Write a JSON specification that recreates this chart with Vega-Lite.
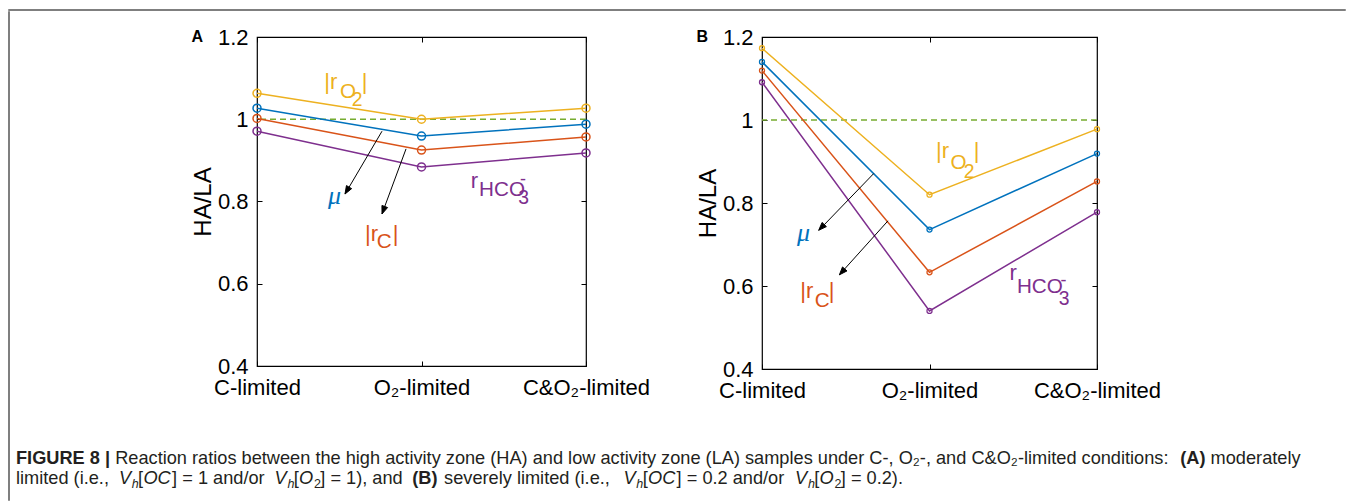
{
  "$schema": "https://vega.github.io/schema/vega-lite/v6.json",
  "padding": {"left": 8, "top": 9, "right": 0, "bottom": 0},
  "background": "white",
  "config": {"view": {"stroke": null}, "font": "Liberation Sans"},
  "datasets": {
    "series": [
      {"panel": "A", "series": "rO2", "cond": 1, "ratio": 1.063},
      {"panel": "A", "series": "rO2", "cond": 2, "ratio": 1.0},
      {"panel": "A", "series": "rO2", "cond": 3, "ratio": 1.027},
      {"panel": "A", "series": "mu", "cond": 1, "ratio": 1.027},
      {"panel": "A", "series": "mu", "cond": 2, "ratio": 0.959},
      {"panel": "A", "series": "mu", "cond": 3, "ratio": 0.988},
      {"panel": "A", "series": "rC", "cond": 1, "ratio": 1.002},
      {"panel": "A", "series": "rC", "cond": 2, "ratio": 0.925},
      {"panel": "A", "series": "rC", "cond": 3, "ratio": 0.957},
      {"panel": "A", "series": "rHCO3", "cond": 1, "ratio": 0.971},
      {"panel": "A", "series": "rHCO3", "cond": 2, "ratio": 0.884},
      {"panel": "A", "series": "rHCO3", "cond": 3, "ratio": 0.918},
      {"panel": "B", "series": "rO2", "cond": 1, "ratio": 1.173},
      {"panel": "B", "series": "rO2", "cond": 2, "ratio": 0.82},
      {"panel": "B", "series": "rO2", "cond": 3, "ratio": 0.978},
      {"panel": "B", "series": "mu", "cond": 1, "ratio": 1.14},
      {"panel": "B", "series": "mu", "cond": 2, "ratio": 0.736},
      {"panel": "B", "series": "mu", "cond": 3, "ratio": 0.919},
      {"panel": "B", "series": "rC", "cond": 1, "ratio": 1.119},
      {"panel": "B", "series": "rC", "cond": 2, "ratio": 0.633},
      {"panel": "B", "series": "rC", "cond": 3, "ratio": 0.852},
      {"panel": "B", "series": "rHCO3", "cond": 1, "ratio": 1.091},
      {"panel": "B", "series": "rHCO3", "cond": 2, "ratio": 0.54},
      {"panel": "B", "series": "rHCO3", "cond": 3, "ratio": 0.778}
    ],
    "reference": [{"ref": 1}],
    "labels": [
      {"panel": "A", "series": "rO2", "level": "main", "x": 1.409, "y": 1.073, "txt": "|r"},
      {"panel": "A", "series": "rO2", "level": "sub", "x": 1.505, "y": 1.052, "txt": "O"},
      {"panel": "A", "series": "rO2", "level": "sub2", "x": 1.576, "y": 1.032, "txt": "2"},
      {"panel": "A", "series": "rO2", "level": "main", "x": 1.637, "y": 1.073, "txt": "|"},
      {"panel": "A", "series": "mu", "level": "mu", "x": 1.432, "y": 0.794, "txt": "μ"},
      {"panel": "A", "series": "rC", "level": "main", "x": 1.657, "y": 0.704, "txt": "|r"},
      {"panel": "A", "series": "rC", "level": "sub", "x": 1.728, "y": 0.688, "txt": "C"},
      {"panel": "A", "series": "rC", "level": "main", "x": 1.825, "y": 0.704, "txt": "|"},
      {"panel": "A", "series": "rHCO3", "level": "main", "x": 2.299, "y": 0.834, "txt": "r"},
      {"panel": "A", "series": "rHCO3", "level": "sub", "x": 2.35, "y": 0.813, "txt": "HCO"},
      {"panel": "A", "series": "rHCO3", "level": "sub2", "x": 2.588, "y": 0.793, "txt": "3"},
      {"panel": "A", "series": "rHCO3", "level": "sup", "x": 2.599, "y": 0.841, "txt": "-"},
      {"panel": "B", "series": "rO2", "level": "main", "x": 2.039, "y": 0.909, "txt": "|r"},
      {"panel": "B", "series": "rO2", "level": "sub", "x": 2.125, "y": 0.882, "txt": "O"},
      {"panel": "B", "series": "rO2", "level": "sub2", "x": 2.204, "y": 0.86, "txt": "2"},
      {"panel": "B", "series": "rO2", "level": "main", "x": 2.264, "y": 0.909, "txt": "|"},
      {"panel": "B", "series": "mu", "level": "mu", "x": 1.209, "y": 0.708, "txt": "μ"},
      {"panel": "B", "series": "rC", "level": "main", "x": 1.229, "y": 0.57, "txt": "|r"},
      {"panel": "B", "series": "rC", "level": "sub", "x": 1.315, "y": 0.55, "txt": "C"},
      {"panel": "B", "series": "rC", "level": "main", "x": 1.398, "y": 0.57, "txt": "|"},
      {"panel": "B", "series": "rHCO3", "level": "main", "x": 2.477, "y": 0.615, "txt": "r"},
      {"panel": "B", "series": "rHCO3", "level": "sub", "x": 2.522, "y": 0.583, "txt": "HCO"},
      {"panel": "B", "series": "rHCO3", "level": "sub2", "x": 2.771, "y": 0.555, "txt": "3"},
      {"panel": "B", "series": "rHCO3", "level": "sup", "x": 2.782, "y": 0.601, "txt": "-"}
    ],
    "arrows": [
      {"panel": "A", "arrow": 1, "x": 1.76, "y": 0.971, "x2": 1.535, "y2": 0.818},
      {"panel": "A", "arrow": 2, "x": 1.906, "y": 0.928, "x2": 1.76, "y2": 0.77},
      {"panel": "B", "arrow": 1, "x": 1.667, "y": 0.871, "x2": 1.339, "y2": 0.734},
      {"panel": "B", "arrow": 2, "x": 1.752, "y": 0.757, "x2": 1.462, "y2": 0.627}
    ],
    "heads": [
      {"panel": "A", "arrow": 1, "k": 1, "x": 1.535, "y": 0.8182},
      {"panel": "A", "arrow": 1, "k": 2, "x": 1.5753, "y": 0.8313},
      {"panel": "A", "arrow": 1, "k": 3, "x": 1.5438, "y": 0.8387},
      {"panel": "A", "arrow": 1, "k": 4, "x": 1.535, "y": 0.8182},
      {"panel": "A", "arrow": 2, "k": 1, "x": 1.7599, "y": 0.7696},
      {"panel": "A", "arrow": 2, "k": 2, "x": 1.7938, "y": 0.7853},
      {"panel": "A", "arrow": 2, "k": 3, "x": 1.7596, "y": 0.7904},
      {"panel": "A", "arrow": 2, "k": 4, "x": 1.7599, "y": 0.7696},
      {"panel": "B", "arrow": 1, "k": 1, "x": 1.3385, "y": 0.7343},
      {"panel": "B", "arrow": 1, "k": 2, "x": 1.3845, "y": 0.7431},
      {"panel": "B", "arrow": 1, "k": 3, "x": 1.3587, "y": 0.7531},
      {"panel": "B", "arrow": 1, "k": 4, "x": 1.3385, "y": 0.7343},
      {"panel": "B", "arrow": 2, "k": 1, "x": 1.4621, "y": 0.6269},
      {"panel": "B", "arrow": 2, "k": 2, "x": 1.5073, "y": 0.6363},
      {"panel": "B", "arrow": 2, "k": 3, "x": 1.4806, "y": 0.6459},
      {"panel": "B", "arrow": 2, "k": 4, "x": 1.4621, "y": 0.6269}
    ],
    "caption": [
      {"line": 1, "x": 0, "sty": "bold", "txt": "FIGURE 8 |"},
      {"line": 1, "x": 99.2, "sty": "reg", "txt": "Reaction ratios between the high activity zone (HA) and low activity zone (LA) samples under C-, O₂-, and C&O₂-limited conditions:"},
      {"line": 1, "x": 1164.3, "sty": "bold", "txt": "(A)"},
      {"line": 1, "x": 1194.6, "sty": "reg", "txt": "moderately"},
      {"line": 2, "x": 0, "sty": "reg", "txt": "limited (i.e.,"},
      {"line": 2, "x": 103, "sty": "ital", "txt": "V"},
      {"line": 2, "x": 115.8, "sty": "subital", "txt": "h"},
      {"line": 2, "x": 122.1, "sty": "reg", "txt": "["},
      {"line": 2, "x": 127.4, "sty": "ital", "txt": "OC"},
      {"line": 2, "x": 156.1, "sty": "reg", "txt": "] = 1 and/or"},
      {"line": 2, "x": 258.6, "sty": "ital", "txt": "V"},
      {"line": 2, "x": 271.4, "sty": "subital", "txt": "h"},
      {"line": 2, "x": 277.8, "sty": "reg", "txt": "["},
      {"line": 2, "x": 283.1, "sty": "ital", "txt": "O"},
      {"line": 2, "x": 297.9, "sty": "sub", "txt": "2"},
      {"line": 2, "x": 304.3, "sty": "reg", "txt": "] = 1), and"},
      {"line": 2, "x": 396.2, "sty": "bold", "txt": "(B)"},
      {"line": 2, "x": 428.1, "sty": "reg", "txt": "severely limited (i.e.,"},
      {"line": 2, "x": 607.5, "sty": "ital", "txt": "V"},
      {"line": 2, "x": 620.3, "sty": "subital", "txt": "h"},
      {"line": 2, "x": 626.7, "sty": "reg", "txt": "["},
      {"line": 2, "x": 632, "sty": "ital", "txt": "OC"},
      {"line": 2, "x": 660.6, "sty": "reg", "txt": "] = 0.2 and/or"},
      {"line": 2, "x": 779.1, "sty": "ital", "txt": "V"},
      {"line": 2, "x": 791.9, "sty": "subital", "txt": "h"},
      {"line": 2, "x": 798.2, "sty": "reg", "txt": "["},
      {"line": 2, "x": 803.6, "sty": "ital", "txt": "O"},
      {"line": 2, "x": 818.4, "sty": "sub", "txt": "2"},
      {"line": 2, "x": 824.8, "sty": "reg", "txt": "] = 0.2)."}
    ]
  },
  "spacing": 0,
  "vconcat": [
    {"width": 1336, "height": 0.001, "data": {"values": []}, "mark": "text", "view": {"stroke": "#555555", "strokeWidth": 1.5}},
    {
      "spacing": 6,
      "hconcat": [
        {"width": 0.001, "height": 488, "data": {"values": []}, "mark": "text", "view": {"stroke": "#555555", "strokeWidth": 1.5}},
        {
          "spacing": 12,
          "vconcat": [
            {"width": 0.001, "height": 0.001, "data": {"values": []}, "mark": "text"},
            {
              "spacing": 47,
              "vconcat": [
                {
                  "spacing": 44,
                  "hconcat": [
                    {"width": 130, "height": 0.001, "data": {"values": []}, "mark": "text"},
                    {
                      "width": 329, "height": 329,
                      "view": {"stroke": "black", "strokeWidth": 1.2},
                      "title": {"text": "A", "anchor": "start", "frame": "bounds", "font": "Liberation Sans", "fontSize": 16, "fontWeight": "bold", "color": "black", "offset": -19},
                      "resolve": {"axis": {"x": "independent", "y": "independent"}},
                      "layer": [
                        {"data": {"name": "reference"}, "mark": {"type": "rule", "color": "#77AC30", "strokeDash": [6, 4], "strokeWidth": 1.5},
                         "encoding": {"y": {"field": "ref", "type": "quantitative", "scale": {"domain": [0.4, 1.2], "nice": false, "zero": false}, "axis": null}}},
                        {"data": {"name": "series"}, "transform": [{"filter": "datum.panel === 'A'"}],
                         "mark": {"type": "line", "strokeWidth": 1.5},
                         "encoding": {
                           "x": {"field": "cond", "type": "quantitative", "scale": {"domain": [1, 3], "nice": false, "zero": false},
                                 "axis": {"orient": "bottom", "values": [1, 2, 3], "labelExpr": "datum.value == 1 ? 'C-limited' : datum.value == 2 ? 'O₂-limited' : 'C&O₂-limited'", "labelOverlap": false, "labelFlush": false, "title": null, "domain": false, "grid": false, "tickSize": -5, "tickColor": "black", "labelFontSize": 22, "labelColor": "black", "labelPadding": 16, "labelFont": "Liberation Sans"}},
                           "y": {"field": "ratio", "type": "quantitative", "scale": {"domain": [0.4, 1.2], "nice": false, "zero": false},
                                 "axis": {"orient": "left", "values": [0.4, 0.6, 0.8, 1, 1.2], "format": "~g", "labelOverlap": false, "title": "HA/LA", "titleFontSize": 24, "titleFontWeight": "normal", "titleColor": "black", "titleFont": "Liberation Sans", "titlePadding": 2, "domain": false, "grid": false, "tickSize": -5, "tickColor": "black", "labelFontSize": 22, "labelColor": "black", "labelPadding": 14, "labelFont": "Liberation Sans"}},
                           "color": {"field": "series", "type": "nominal", "scale": {"domain": ["rO2", "mu", "rC", "rHCO3"], "range": ["#EDB120", "#0072BD", "#D95319", "#7E2F8E"]}, "legend": null}
                         }},
                        {"data": {"name": "series"}, "transform": [{"filter": "datum.panel === 'A'"}],
                         "mark": {"type": "point", "filled": false, "size": 64, "strokeWidth": 1.5, "opacity": 1},
                         "encoding": {
                           "x": {"field": "cond", "type": "quantitative", "scale": {"domain": [1, 3], "nice": false, "zero": false},
                                 "axis": {"orient": "top", "values": [1, 2, 3], "labels": false, "title": null, "domain": false, "grid": false, "tickSize": -5, "tickColor": "black"}},
                           "y": {"field": "ratio", "type": "quantitative", "scale": {"domain": [0.4, 1.2], "nice": false, "zero": false},
                                 "axis": {"orient": "right", "values": [0.4, 0.6, 0.8, 1, 1.2], "labels": false, "title": null, "domain": false, "grid": false, "tickSize": -5, "tickColor": "black"}},
                           "color": {"field": "series", "type": "nominal", "scale": {"domain": ["rO2", "mu", "rC", "rHCO3"], "range": ["#EDB120", "#0072BD", "#D95319", "#7E2F8E"]}, "legend": null}
                         }},
                        {"data": {"name": "arrows"}, "transform": [{"filter": "datum.panel === 'A'"}],
                         "mark": {"type": "rule", "color": "black", "strokeWidth": 1},
                         "encoding": {"x": {"field": "x", "type": "quantitative", "axis": null}, "y": {"field": "y", "type": "quantitative", "axis": null}, "x2": {"field": "x2"}, "y2": {"field": "y2"}}},
                        {"data": {"name": "heads"}, "transform": [{"filter": "datum.panel === 'A'"}],
                         "mark": {"type": "line", "color": "black", "fill": "black", "strokeWidth": 1},
                         "encoding": {"x": {"field": "x", "type": "quantitative", "axis": null}, "y": {"field": "y", "type": "quantitative", "axis": null}, "detail": {"field": "arrow"}, "order": {"field": "k"}}},
                        {"data": {"name": "labels"}, "transform": [{"filter": "datum.panel === 'A' && datum.level !== 'mu'"}],
                         "mark": {"type": "text", "align": "left", "baseline": "alphabetic", "font": "Liberation Sans"},
                         "encoding": {"x": {"field": "x", "type": "quantitative", "axis": null}, "y": {"field": "y", "type": "quantitative", "axis": null}, "text": {"field": "txt"},
                           "size": {"field": "level", "type": "nominal", "scale": {"domain": ["main", "sub", "sub2", "sup"], "range": [22, 18, 15, 15]}, "legend": null},
                           "color": {"field": "series", "type": "nominal", "scale": {"domain": ["rO2", "mu", "rC", "rHCO3"], "range": ["#EDB120", "#0072BD", "#D95319", "#7E2F8E"]}, "legend": null}}},
                        {"data": {"name": "labels"}, "transform": [{"filter": "datum.panel === 'A' && datum.level === 'mu'"}],
                         "mark": {"type": "text", "align": "left", "baseline": "alphabetic", "font": "Liberation Serif", "fontStyle": "italic", "fontSize": 26},
                         "encoding": {"x": {"field": "x", "type": "quantitative", "axis": null}, "y": {"field": "y", "type": "quantitative", "axis": null}, "text": {"field": "txt"},
                           "color": {"field": "series", "type": "nominal", "scale": {"domain": ["rO2", "mu", "rC", "rHCO3"], "range": ["#EDB120", "#0072BD", "#D95319", "#7E2F8E"]}, "legend": null}}}
                      ]
                    },
                    {
                      "width": 335, "height": 332,
                      "view": {"stroke": "black", "strokeWidth": 1.2},
                      "title": {"text": "B", "anchor": "start", "frame": "bounds", "font": "Liberation Sans", "fontSize": 16, "fontWeight": "bold", "color": "black", "offset": -19},
                      "resolve": {"axis": {"x": "independent", "y": "independent"}},
                      "layer": [
                        {"data": {"name": "reference"}, "mark": {"type": "rule", "color": "#77AC30", "strokeDash": [6, 4], "strokeWidth": 1.5},
                         "encoding": {"y": {"field": "ref", "type": "quantitative", "scale": {"domain": [0.4, 1.2], "nice": false, "zero": false}, "axis": null}}},
                        {"data": {"name": "series"}, "transform": [{"filter": "datum.panel === 'B'"}],
                         "mark": {"type": "line", "strokeWidth": 1.5},
                         "encoding": {
                           "x": {"field": "cond", "type": "quantitative", "scale": {"domain": [1, 3], "nice": false, "zero": false},
                                 "axis": {"orient": "bottom", "values": [1, 2, 3], "labelExpr": "datum.value == 1 ? 'C-limited' : datum.value == 2 ? 'O₂-limited' : 'C&O₂-limited'", "labelOverlap": false, "labelFlush": false, "title": null, "domain": false, "grid": false, "tickSize": -5, "tickColor": "black", "labelFontSize": 22, "labelColor": "black", "labelPadding": 16, "labelFont": "Liberation Sans"}},
                           "y": {"field": "ratio", "type": "quantitative", "scale": {"domain": [0.4, 1.2], "nice": false, "zero": false},
                                 "axis": {"orient": "left", "values": [0.4, 0.6, 0.8, 1, 1.2], "format": "~g", "labelOverlap": false, "title": "HA/LA", "titleFontSize": 24, "titleFontWeight": "normal", "titleColor": "black", "titleFont": "Liberation Sans", "titlePadding": 2, "domain": false, "grid": false, "tickSize": -5, "tickColor": "black", "labelFontSize": 22, "labelColor": "black", "labelPadding": 14, "labelFont": "Liberation Sans"}},
                           "color": {"field": "series", "type": "nominal", "scale": {"domain": ["rO2", "mu", "rC", "rHCO3"], "range": ["#EDB120", "#0072BD", "#D95319", "#7E2F8E"]}, "legend": null}
                         }},
                        {"data": {"name": "series"}, "transform": [{"filter": "datum.panel === 'B'"}],
                         "mark": {"type": "point", "filled": false, "size": 25, "strokeWidth": 1.3, "opacity": 1},
                         "encoding": {
                           "x": {"field": "cond", "type": "quantitative", "scale": {"domain": [1, 3], "nice": false, "zero": false},
                                 "axis": {"orient": "top", "values": [1, 2, 3], "labels": false, "title": null, "domain": false, "grid": false, "tickSize": -5, "tickColor": "black"}},
                           "y": {"field": "ratio", "type": "quantitative", "scale": {"domain": [0.4, 1.2], "nice": false, "zero": false},
                                 "axis": {"orient": "right", "values": [0.4, 0.6, 0.8, 1, 1.2], "labels": false, "title": null, "domain": false, "grid": false, "tickSize": -5, "tickColor": "black"}},
                           "color": {"field": "series", "type": "nominal", "scale": {"domain": ["rO2", "mu", "rC", "rHCO3"], "range": ["#EDB120", "#0072BD", "#D95319", "#7E2F8E"]}, "legend": null}
                         }},
                        {"data": {"name": "arrows"}, "transform": [{"filter": "datum.panel === 'B'"}],
                         "mark": {"type": "rule", "color": "black", "strokeWidth": 1},
                         "encoding": {"x": {"field": "x", "type": "quantitative", "axis": null}, "y": {"field": "y", "type": "quantitative", "axis": null}, "x2": {"field": "x2"}, "y2": {"field": "y2"}}},
                        {"data": {"name": "heads"}, "transform": [{"filter": "datum.panel === 'B'"}],
                         "mark": {"type": "line", "color": "black", "fill": "black", "strokeWidth": 1},
                         "encoding": {"x": {"field": "x", "type": "quantitative", "axis": null}, "y": {"field": "y", "type": "quantitative", "axis": null}, "detail": {"field": "arrow"}, "order": {"field": "k"}}},
                        {"data": {"name": "labels"}, "transform": [{"filter": "datum.panel === 'B' && datum.level !== 'mu'"}],
                         "mark": {"type": "text", "align": "left", "baseline": "alphabetic", "font": "Liberation Sans"},
                         "encoding": {"x": {"field": "x", "type": "quantitative", "axis": null}, "y": {"field": "y", "type": "quantitative", "axis": null}, "text": {"field": "txt"},
                           "size": {"field": "level", "type": "nominal", "scale": {"domain": ["main", "sub", "sub2", "sup"], "range": [22, 18, 15, 15]}, "legend": null},
                           "color": {"field": "series", "type": "nominal", "scale": {"domain": ["rO2", "mu", "rC", "rHCO3"], "range": ["#EDB120", "#0072BD", "#D95319", "#7E2F8E"]}, "legend": null}}},
                        {"data": {"name": "labels"}, "transform": [{"filter": "datum.panel === 'B' && datum.level === 'mu'"}],
                         "mark": {"type": "text", "align": "left", "baseline": "alphabetic", "font": "Liberation Serif", "fontStyle": "italic", "fontSize": 26},
                         "encoding": {"x": {"field": "x", "type": "quantitative", "axis": null}, "y": {"field": "y", "type": "quantitative", "axis": null}, "text": {"field": "txt"},
                           "color": {"field": "series", "type": "nominal", "scale": {"domain": ["rO2", "mu", "rC", "rHCO3"], "range": ["#EDB120", "#0072BD", "#D95319", "#7E2F8E"]}, "legend": null}}}
                      ]
                    }
                  ]
                },
                {
                  "width": 1320, "height": 40,
                  "data": {"name": "caption"},
                  "encoding": {
                    "x": {"field": "x", "type": "quantitative", "scale": {"domain": [0, 1320], "nice": false, "zero": false}, "axis": null},
                    "y": {"field": "line", "type": "ordinal", "scale": {"type": "point", "domain": [1, 2], "padding": 0.5}, "axis": null},
                    "text": {"field": "txt"}
                  },
                  "layer": [
                    {"transform": [{"filter": "datum.sty === 'reg'"}], "mark": {"type": "text", "align": "left", "baseline": "alphabetic", "font": "Liberation Sans", "fontSize": 18.2, "color": "#231f20"}},
                    {"transform": [{"filter": "datum.sty === 'bold'"}], "mark": {"type": "text", "align": "left", "baseline": "alphabetic", "font": "Liberation Sans", "fontWeight": "bold", "fontSize": 18.2, "color": "#231f20"}},
                    {"transform": [{"filter": "datum.sty === 'ital'"}], "mark": {"type": "text", "align": "left", "baseline": "alphabetic", "font": "Liberation Sans", "fontStyle": "italic", "fontSize": 18.2, "color": "#231f20"}},
                    {"transform": [{"filter": "datum.sty === 'subital'"}], "mark": {"type": "text", "align": "left", "baseline": "alphabetic", "font": "Liberation Sans", "fontStyle": "italic", "fontSize": 12.5, "dy": 4, "color": "#231f20"}},
                    {"transform": [{"filter": "datum.sty === 'sub'"}], "mark": {"type": "text", "align": "left", "baseline": "alphabetic", "font": "Liberation Sans", "fontSize": 12.5, "dy": 4, "color": "#231f20"}}
                  ]
                }
              ]
            }
          ]
        }
      ]
    }
  ]
}
